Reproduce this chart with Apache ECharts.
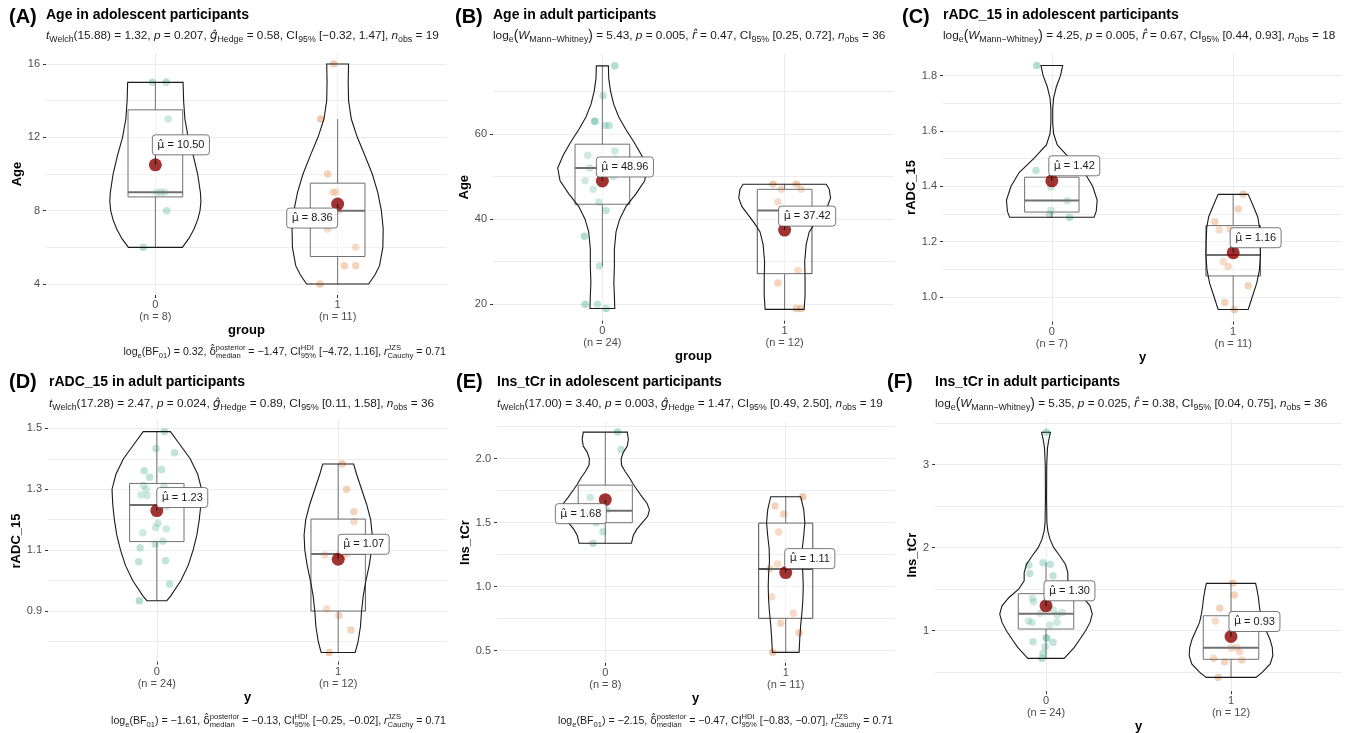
<!DOCTYPE html>
<html>
<head>
<meta charset="utf-8">
<script src="https://cdn.jsdelivr.net/npm/echarts@6/dist/echarts.min.js"></script>
<style>
  html, body { margin: 0; padding: 0; background: #fff; }
  #main { width: 1354px; height: 733px; }
</style>
</head>
<body>
<div id="main"></div>
<script>
// ---- data ----
const panelLetters = ['(A)', '(B)', '(C)', '(D)', '(E)', '(F)']
const panelTitles = [
  'Age in adolescent participants',
  'Age in adult participants',
  'rADC_15 in adolescent participants',
  'rADC_15 in adult participants',
  'Ins_tCr in adolescent participants',
  'Ins_tCr in adult participants'
]
const xNames = ['group', 'group', 'y', 'y', 'y', 'y']
const yNames = ['Age', 'Age', 'rADC_15', 'rADC_15', 'Ins_tCr', 'Ins_tCr']
const xCats = ['0', '1']
const groupN = [[8, 11], [24, 12], [7, 11], [24, 12], [8, 11], [24, 12]]

// y axis ticks
const yMajor = [[4, 8, 12, 16], [20, 40, 60], [1.0, 1.2, 1.4, 1.6, 1.8], [0.9, 1.1, 1.3, 1.5], [0.5, 1.0, 1.5, 2.0], [1, 2, 3]]
const yMinor = [[6, 10, 14], [30, 50, 70], [1.1, 1.3, 1.5, 1.7], [0.8, 1.0, 1.2, 1.4], [0.75, 1.25, 1.75, 2.25], [0.5, 1.5, 2.5, 3.5]]
const yDecimals = [0, 0, 1, 1, 1, 0]
const yRange = [[3.4, 16.6], [16.15, 78.85], [0.911, 1.881], [0.734, 1.526], [0.4045, 2.2855], [0.271, 3.549]]

// group means
const means = [[10.50, 8.36], [48.96, 37.42], [1.42, 1.16], [1.23, 1.07], [1.68, 1.11], [1.30, 0.93]]

// box stats: [lower whisker, Q1, median, Q3, upper whisker]
const boxStats = [
  [[6, 8.75, 9, 13.5, 15], [4, 5.5, 8, 9.5, 13]],
  [[29, 43.5, 52, 57.6, 76], [18.8, 27.2, 42, 47, 48.2]],
  [[1.288, 1.307, 1.349, 1.433, 1.457], [0.955, 1.076, 1.152, 1.258, 1.371]],
  [[0.934, 1.128, 1.248, 1.319, 1.489], [0.764, 0.90, 1.087, 1.202, 1.383]],
  [[1.339, 1.5, 1.594, 1.794, 2.208], [0.487, 0.753, 1.138, 1.497, 1.703]],
  [[0.667, 1.02, 1.205, 1.446, 1.819], [0.438, 0.655, 0.795, 1.18, 1.57]]
]

// jittered observations: [x jitter, value]
const pointsA0 = [[-0.016, 15], [0.059, 15], [0.07, 13], [0.007, 9], [0.051, 9], [0.03, 9], [0.062, 8], [-0.066, 6]]
const pointsA1 = [[-0.022, 16], [-0.093, 13], [-0.055, 10], [-0.027, 9], [-0.01, 9], [0.005, 8], [-0.055, 7], [0.099, 6], [0.037, 5], [0.099, 5], [-0.097, 4]]
const pointsB0 = [[0.068, 76], [0.004, 69], [-0.044, 63], [-0.04, 63], [0.015, 62], [0.037, 62], [-0.08, 55], [0.068, 56], [-0.07, 52], [-0.095, 49], [-0.051, 47], [-0.02, 44], [0.02, 42], [-0.099, 36], [-0.015, 29], [-0.095, 20], [-0.027, 20], [0.02, 19], [0.03, 52], [0.06, 50], [0.05, 53], [-0.01, 51], [0.075, 54], [0.01, 51]]
const pointsB1 = [[-0.064, 48.2], [-0.018, 47], [0.064, 48.2], [0.09, 47], [-0.037, 44], [0.073, 28], [-0.037, 25], [0.064, 19], [0.09, 19], [0.02, 42], [0.04, 42], [0.01, 40]]
const pointsC0 = [[-0.083, 1.837], [-0.087, 1.457], [-0.004, 1.314], [-0.012, 1.299], [0.085, 1.348], [0.098, 1.288], [-0.004, 1.397]]
const pointsC1 = [[0.055, 1.371], [0.028, 1.318], [-0.101, 1.272], [-0.077, 1.242], [-0.018, 1.245], [-0.055, 1.128], [-0.028, 1.11], [0.083, 1.041], [-0.046, 0.98], [0.006, 0.955], [0.01, 1.15]]
const pointsD0 = [[0.042, 1.489], [-0.004, 1.434], [0.098, 1.42], [0.026, 1.365], [-0.07, 1.361], [-0.04, 1.339], [-0.074, 1.312], [-0.059, 1.30], [-0.087, 1.281], [-0.053, 1.279], [0.052, 1.243], [-0.077, 1.157], [-0.007, 1.174], [0.006, 1.188], [0.052, 1.169], [0.033, 1.13], [-0.009, 1.12], [-0.092, 1.108], [-0.1, 1.062], [0.048, 1.065], [0.07, 0.989], [-0.096, 0.934], [0.04, 1.31], [0.07, 1.29]]
const pointsD1 = [[0.022, 1.383], [0.046, 1.3], [0.087, 1.226], [0.087, 1.193], [-0.074, 1.084], [-0.064, 0.907], [0.004, 0.885], [0.07, 0.838], [-0.05, 0.764], [0.01, 1.09], [0.03, 1.08], [0.05, 1.09]]
const pointsE0 = [[0.068, 2.208], [0.087, 2.073], [-0.083, 1.698], [0.009, 1.6], [-0.013, 1.43], [-0.068, 1.339], [-0.03, 1.59], [-0.05, 1.50]]
const pointsE1 = [[0.094, 1.703], [-0.059, 1.63], [-0.011, 1.568], [-0.039, 1.427], [-0.046, 1.177], [-0.087, 1.138], [-0.077, 0.922], [0.042, 0.792], [-0.028, 0.714], [0.074, 0.641], [-0.072, 0.487]]
const pointsF0 = [[0.002, 3.39], [-0.094, 1.791], [-0.016, 1.819], [0.023, 1.80], [-0.088, 1.69], [0.038, 1.663], [-0.074, 1.39], [0.088, 1.22], [0.06, 1.19], [-0.094, 1.116], [-0.076, 1.10], [0.02, 1.07], [0.059, 1.10], [-0.07, 0.867], [0.005, 0.908], [0.038, 0.86], [-0.004, 0.807], [-0.016, 0.727], [-0.022, 0.667], [-0.067, 1.35], [0.01, 1.3], [0.04, 1.25], [-0.03, 1.21], [0.0, 0.915]]
const pointsF1 = [[0.009, 1.57], [0.018, 1.43], [-0.061, 1.27], [-0.085, 1.116], [0.047, 0.747], [0.059, 0.647], [-0.094, 0.667], [-0.034, 0.627], [-0.07, 0.438], [0.0, 0.79], [0.03, 0.80], [0.02, 1.058]]
const points = [[pointsA0, pointsA1], [pointsB0, pointsB1], [pointsC0, pointsC1], [pointsD0, pointsD1], [pointsE0, pointsE1], [pointsF0, pointsF1]]

// violin outlines: [value, half width in group units]
const violinA0 = [[15, 0.152], [14, 0.155], [13, 0.162], [12, 0.18], [11, 0.208], [10, 0.232], [9, 0.247], [8.5, 0.25], [8, 0.245], [7.5, 0.232], [7, 0.212], [6.5, 0.185], [6, 0.148]]
const violinA1 = [[16, 0.06], [15, 0.058], [14, 0.06], [13, 0.075], [12, 0.108], [11, 0.15], [10, 0.19], [9, 0.22], [8, 0.24], [7, 0.25], [6, 0.248], [5, 0.23], [4.5, 0.205], [4, 0.17]]
const violinB0 = [[76, 0.033], [73, 0.035], [70, 0.045], [67, 0.062], [64, 0.09], [61, 0.13], [58, 0.175], [55, 0.215], [52, 0.245], [49, 0.232], [46, 0.185], [43, 0.13], [40, 0.095], [37, 0.075], [33, 0.066], [29, 0.066], [25, 0.063], [22, 0.066], [19, 0.068]]
const violinB1 = [[48.2, 0.228], [47, 0.245], [45, 0.252], [43, 0.235], [41, 0.2], [39, 0.165], [37, 0.135], [34, 0.118], [30, 0.11], [26, 0.112], [22, 0.112], [18.8, 0.107]]
const violinC0 = [[1.837, 0.06], [1.8, 0.048], [1.76, 0.025], [1.72, 0.01], [1.68, 0.005], [1.63, 0.005], [1.59, 0.01], [1.55, 0.03], [1.5, 0.1], [1.45, 0.18], [1.4, 0.225], [1.35, 0.25], [1.31, 0.245], [1.288, 0.233]]
const violinC1 = [[1.371, 0.083], [1.33, 0.11], [1.29, 0.135], [1.25, 0.146], [1.2, 0.149], [1.15, 0.15], [1.1, 0.145], [1.05, 0.13], [1.0, 0.105], [0.955, 0.083]]
const violinD0 = [[1.489, 0.075], [1.45, 0.123], [1.4, 0.184], [1.35, 0.225], [1.3, 0.247], [1.25, 0.243], [1.2, 0.234], [1.15, 0.221], [1.1, 0.2], [1.05, 0.173], [1.0, 0.133], [0.95, 0.077], [0.934, 0.055]]
const violinD1 = [[1.383, 0.085], [1.35, 0.101], [1.3, 0.129], [1.25, 0.157], [1.2, 0.179], [1.15, 0.188], [1.1, 0.184], [1.05, 0.171], [1.0, 0.153], [0.95, 0.138], [0.9, 0.129], [0.85, 0.123], [0.8, 0.11], [0.764, 0.094]]
const violinE0 = [[2.208, 0.122], [2.15, 0.128], [2.1, 0.122], [2.05, 0.1], [2.0, 0.088], [1.95, 0.09], [1.9, 0.11], [1.85, 0.135], [1.8, 0.155], [1.75, 0.18], [1.7, 0.205], [1.65, 0.232], [1.6, 0.245], [1.55, 0.235], [1.5, 0.205], [1.45, 0.175], [1.4, 0.155], [1.339, 0.145]]
const violinE1 = [[1.703, 0.083], [1.6, 0.1], [1.5, 0.106], [1.4, 0.1], [1.3, 0.092], [1.2, 0.09], [1.1, 0.095], [1.0, 0.097], [0.9, 0.095], [0.8, 0.09], [0.7, 0.083], [0.6, 0.078], [0.487, 0.074]]
const violinF0 = [[3.39, 0.024], [3.3, 0.015], [3.2, 0.008], [3.0, 0.004], [2.6, 0.003], [2.3, 0.005], [2.2, 0.01], [2.1, 0.022], [2.0, 0.042], [1.9, 0.075], [1.8, 0.105], [1.7, 0.118], [1.6, 0.118], [1.5, 0.148], [1.4, 0.2], [1.3, 0.238], [1.2, 0.25], [1.1, 0.238], [1.0, 0.214], [0.9, 0.184], [0.8, 0.153], [0.7, 0.112], [0.667, 0.098]]
const violinF1 = [[1.57, 0.133], [1.5, 0.14], [1.4, 0.148], [1.3, 0.153], [1.2, 0.16], [1.1, 0.17], [1.0, 0.19], [0.9, 0.21], [0.8, 0.223], [0.7, 0.226], [0.6, 0.212], [0.5, 0.17], [0.438, 0.135]]
const violins = [[violinA0, violinA1], [violinB0, violinB1], [violinC0, violinC1], [violinD0, violinD1], [violinE0, violinE1], [violinF0, violinF1]]

// statistics texts (token lists: n normal, i italic, h/hi hat glyph, sub, big, stack = sup over sub)
const subtitleTokens = [
  [['i', 't'], ['sub', 'Welch'], ['n', '(15.88) = 1.32, '], ['i', 'p'], ['n', ' = 0.207, '], ['hi', 'ĝ'], ['sub', 'Hedge'], ['n', ' = 0.58, CI'], ['sub', '95%'], ['n', ' [−0.32, 1.47], '], ['i', 'n'], ['sub', 'obs'], ['n', ' = 19']],
  [['n', 'log'], ['sub', 'e'], ['big', '('], ['i', 'W'], ['sub', 'Mann−Whitney'], ['big', ')'], ['n', ' = 5.43, '], ['i', 'p'], ['n', ' = 0.005, '], ['hi', 'r̂'], ['n', ' = 0.47, CI'], ['sub', '95%'], ['n', ' [0.25, 0.72], '], ['i', 'n'], ['sub', 'obs'], ['n', ' = 36']],
  [['n', 'log'], ['sub', 'e'], ['big', '('], ['i', 'W'], ['sub', 'Mann−Whitney'], ['big', ')'], ['n', ' = 4.25, '], ['i', 'p'], ['n', ' = 0.005, '], ['hi', 'r̂'], ['n', ' = 0.67, CI'], ['sub', '95%'], ['n', ' [0.44, 0.93], '], ['i', 'n'], ['sub', 'obs'], ['n', ' = 18']],
  [['i', 't'], ['sub', 'Welch'], ['n', '(17.28) = 2.47, '], ['i', 'p'], ['n', ' = 0.024, '], ['hi', 'ĝ'], ['sub', 'Hedge'], ['n', ' = 0.89, CI'], ['sub', '95%'], ['n', ' [0.11, 1.58], '], ['i', 'n'], ['sub', 'obs'], ['n', ' = 36']],
  [['i', 't'], ['sub', 'Welch'], ['n', '(17.00) = 3.40, '], ['i', 'p'], ['n', ' = 0.003, '], ['hi', 'ĝ'], ['sub', 'Hedge'], ['n', ' = 1.47, CI'], ['sub', '95%'], ['n', ' [0.49, 2.50], '], ['i', 'n'], ['sub', 'obs'], ['n', ' = 19']],
  [['n', 'log'], ['sub', 'e'], ['big', '('], ['i', 'W'], ['sub', 'Mann−Whitney'], ['big', ')'], ['n', ' = 5.35, '], ['i', 'p'], ['n', ' = 0.025, '], ['hi', 'r̂'], ['n', ' = 0.38, CI'], ['sub', '95%'], ['n', ' [0.04, 0.75], '], ['i', 'n'], ['sub', 'obs'], ['n', ' = 36']]
]
const captionTokens = [
  [['n', 'log'], ['sub', 'e'], ['n', '(BF'], ['sub', '01'], ['n', ') = 0.32, '], ['h', 'δ̂'], ['stack', 'posterior', 'median'], ['n', ' = −1.47, CI'], ['stack', 'HDI', '95%'], ['n', ' [−4.72, 1.16], '], ['i', 'r'], ['stack', 'JZS', 'Cauchy'], ['n', ' = 0.71']],
  null,
  null,
  [['n', 'log'], ['sub', 'e'], ['n', '(BF'], ['sub', '01'], ['n', ') = −1.61, '], ['h', 'δ̂'], ['stack', 'posterior', 'median'], ['n', ' = −0.13, CI'], ['stack', 'HDI', '95%'], ['n', ' [−0.25, −0.02], '], ['i', 'r'], ['stack', 'JZS', 'Cauchy'], ['n', ' = 0.71']],
  [['n', 'log'], ['sub', 'e'], ['n', '(BF'], ['sub', '01'], ['n', ') = −2.15, '], ['h', 'δ̂'], ['stack', 'posterior', 'median'], ['n', ' = −0.47, CI'], ['stack', 'HDI', '95%'], ['n', ' [−0.83, −0.07], '], ['i', 'r'], ['stack', 'JZS', 'Cauchy'], ['n', ' = 0.71']],
  null
]

// ---- layout (pixels) ----
const gridRects = [
  [46, 53, 401, 242],
  [493, 53.7, 401, 267],
  [943, 53.3, 399, 268.3],
  [48, 420.4, 399, 241.2],
  [497, 422.2, 397, 240.7],
  [935, 419.1, 407, 272.1]
]
const letterPos = [[9, 17], [455, 17], [902, 17], [9, 382], [456, 382], [887, 382]]
const titlePos = [[46, 15], [493, 15], [943, 15], [49, 382], [497, 382], [935, 382]]
const subPos = [[46, 36], [493, 36], [943, 36], [49, 404], [497, 404], [935, 404]]
const capPos = [[446, 352], null, null, [446, 721], [893, 721], null]
const xNameGap = [29, 29, 28, 28, 27, 24]
const yNameGap = [21, 21, 21, 23, 25, 15]
// mean label placement: [dx, dy, anchor side]
const meanLabelPos = [
  [[-3, -20, 'left'], [0, 14, 'right']],
  [[-6, -14, 'left'], [-6, -14, 'left']],
  [[-3, -15, 'left'], [-3, -15, 'left']],
  [[0, -13, 'left'], [0, -15, 'left']],
  [[1, 14, 'right'], [-1, -14, 'left']],
  [[-2, -15, 'left'], [-2, -15, 'left']]
]

const FONT = '"Liberation Sans", Arial, sans-serif'
const HAT_FONT = '"DejaVu Sans", sans-serif'
const groupColors = ['rgba(27,158,119,0.42)', 'rgba(217,95,2,0.42)']
const GRID_COLOR = '#EBEBEB'
const TXT = '#1A1A1A'

const measureCtx = document.createElement('canvas').getContext('2d')
function textWidth (text, size, family) {
  measureCtx.font = size + 'px ' + (family || FONT)
  return measureCtx.measureText(text).width
}

// 富文本：上下标
function buildRich (tokens, size) {
  const ss = Math.round((size - 3) * 10) / 10
  const rich = {
    n: { fontSize: size, fontFamily: FONT, color: TXT, lineHeight: 16, align: 'left' },
    i: { fontSize: size, fontFamily: FONT, fontStyle: 'italic', color: TXT, lineHeight: 16, align: 'left' },
    h: { fontSize: size, fontFamily: HAT_FONT, color: TXT, lineHeight: 16, align: 'left' },
    hi: { fontSize: size, fontFamily: HAT_FONT, fontStyle: 'italic', color: TXT, lineHeight: 16, align: 'left' },
    big: { fontSize: size + 2, fontFamily: FONT, color: TXT, lineHeight: 16, align: 'left' },
    sub: { fontSize: ss, fontFamily: FONT, color: TXT, verticalAlign: 'bottom', lineHeight: 9, align: 'left' }
  }
  let text = ''
  tokens.forEach(function (t, k) {
    if (t[0] === 'stack') {
      const w = Math.max(textWidth(t[1], ss), textWidth(t[2], ss))
      rich['su' + k] = { fontSize: ss, fontFamily: FONT, color: TXT, verticalAlign: 'top', lineHeight: 7, width: 0.01, align: 'left' }
      rich['sb' + k] = { fontSize: ss, fontFamily: FONT, color: TXT, verticalAlign: 'bottom', lineHeight: 9, width: w, align: 'left' }
      text += '{su' + k + '|' + t[1] + '}{sb' + k + '|' + t[2] + '}'
    } else {
      text += '{' + t[0] + '|' + t[1] + '}'
    }
  })
  return { text: text, rich: rich }
}

function boxItem (p) {
  return function (params, api) {
    const g = params.dataIndex
    const s = boxStats[p][g]
    const w = 0.15
    const tl = api.coord([g - w, s[3]])
    const br = api.coord([g + w, s[1]])
    const lineStyle = { stroke: '#4D4D4D', lineWidth: 1 }
    const top = api.coord([g, s[4]])
    const q3 = api.coord([g, s[3]])
    const q1 = api.coord([g, s[1]])
    const bot = api.coord([g, s[0]])
    const mL = api.coord([g - w, s[2]])
    const mR = api.coord([g + w, s[2]])
    return {
      type: 'group',
      children: [
        { type: 'line', shape: { x1: top[0], y1: top[1], x2: q3[0], y2: q3[1] }, style: lineStyle },
        { type: 'line', shape: { x1: q1[0], y1: q1[1], x2: bot[0], y2: bot[1] }, style: lineStyle },
        { type: 'rect', shape: { x: tl[0], y: tl[1], width: br[0] - tl[0], height: br[1] - tl[1] }, style: { fill: 'rgba(255,255,255,0.2)', stroke: '#4D4D4D', lineWidth: 1 } },
        { type: 'line', shape: { x1: mL[0], y1: mL[1], x2: mR[0], y2: mR[1] }, style: { stroke: '#4D4D4D', lineWidth: 2 } }
      ]
    }
  }
}

function violinItem (p) {
  return function (params, api) {
    const g = params.dataIndex
    const prof = violins[p][g]
    const right = prof.map(function (d) { return api.coord([g + d[1], d[0]]) })
    const left = prof.slice().reverse().map(function (d) { return api.coord([g - d[1], d[0]]) })
    return {
      type: 'polygon',
      shape: { points: right.concat(left) },
      style: { fill: 'rgba(255,255,255,0.2)', stroke: '#1A1A1A', lineWidth: 1.1 }
    }
  }
}

function meanLabelItem (p) {
  return function (params, api) {
    const g = params.dataIndex
    const pt = api.coord([g, means[p][g]])
    const pos = meanLabelPos[p][g]
    const val = ' = ' + means[p][g].toFixed(2)
    const w = textWidth('μ̂', 11, HAT_FONT) + textWidth(val, 11) + 10
    const h = 20
    const x0 = pos[2] === 'left' ? pt[0] + pos[0] : pt[0] + pos[0] - w
    const y0 = pt[1] + pos[1] - h / 2
    const nx = Math.min(Math.max(pt[0], x0), x0 + w)
    const ny = Math.min(Math.max(pt[1], y0), y0 + h)
    return {
      type: 'group',
      children: [
        { type: 'line', shape: { x1: pt[0], y1: pt[1], x2: nx, y2: ny }, style: { stroke: '#000', lineWidth: 0.8 } },
        { type: 'rect', shape: { x: x0, y: y0, width: w, height: h, r: 3 }, style: { fill: '#fff', stroke: '#555', lineWidth: 0.8 } },
        {
          type: 'text',
          x: x0 + 5,
          y: y0 + h / 2,
          style: {
            text: '{m|μ̂}{v|' + val + '}',
            rich: {
              m: { fontFamily: HAT_FONT, fontSize: 11, color: TXT, align: 'left' },
              v: { fontFamily: FONT, fontSize: 11, color: TXT, align: 'left' }
            },
            font: '11px ' + FONT,
            fill: TXT,
            align: 'left',
            verticalAlign: 'middle',
            textAlign: 'left',
            textVerticalAlign: 'middle'
          }
        }
      ]
    }
  }
}

const grids = []
const xAxes = []
const yAxes = []
const series = []
const graphics = []

for (let p = 0; p < 6; p++) {
  const r = gridRects[p]
  grids.push({ left: r[0], top: r[1], width: r[2], height: r[3], containLabel: false, outerBoundsMode: 'none' })

  xAxes.push({
    gridIndex: p,
    type: 'value',
    min: -0.6,
    max: 1.6,
    name: xNames[p],
    nameLocation: 'middle',
    nameGap: xNameGap[p],
    nameTextStyle: { fontFamily: FONT, fontWeight: 'bold', fontSize: 13, color: '#000' },
    axisLine: { show: false },
    axisTick: { show: true, length: 3, customValues: [0, 1], lineStyle: { color: '#333' } },
    axisLabel: {
      customValues: [0, 1],
      formatter: function (v) { return xCats[Math.round(v)] + '\n(n = ' + groupN[p][Math.round(v)] + ')' },
      color: '#4D4D4D',
      fontFamily: FONT,
      fontSize: 11,
      lineHeight: 12,
      margin: 4
    },
    splitLine: { show: true, lineStyle: { color: GRID_COLOR, width: 1 } }
  })

  // grid lines (major + minor)
  yAxes.push({
    gridIndex: p,
    type: 'value',
    min: yRange[p][0],
    max: yRange[p][1],
    position: 'left',
    axisLine: { show: false },
    axisTick: { show: false, customValues: yMajor[p].concat(yMinor[p]) },
    axisLabel: { show: false, customValues: yMajor[p].concat(yMinor[p]) },
    splitLine: { show: true, lineStyle: { color: GRID_COLOR, width: 1 } }
  })
  // ticks + labels
  yAxes.push({
    gridIndex: p,
    type: 'value',
    min: yRange[p][0],
    max: yRange[p][1],
    position: 'left',
    name: yNames[p],
    nameLocation: 'middle',
    nameGap: yNameGap[p],
    nameTextStyle: { fontFamily: FONT, fontWeight: 'bold', fontSize: 13, color: '#000' },
    axisLine: { show: false },
    axisTick: { show: true, length: 3, customValues: yMajor[p], lineStyle: { color: '#333' } },
    axisLabel: {
      customValues: yMajor[p],
      formatter: function (v) { return Number(v).toFixed(yDecimals[p]) },
      color: '#4D4D4D',
      fontFamily: FONT,
      fontSize: 11,
      margin: 6
    },
    splitLine: { show: false }
  })

  const yIdx = 2 * p + 1
  for (let g = 0; g < 2; g++) {
    series.push({
      type: 'scatter',
      xAxisIndex: p,
      yAxisIndex: yIdx,
      data: points[p][g].map(function (d) { return [g + d[0], d[1]] }),
      symbolSize: 7.5,
      itemStyle: { color: groupColors[g] },
      silent: true,
      z: 2
    })
  }
  series.push({
    type: 'custom',
    xAxisIndex: p,
    yAxisIndex: yIdx,
    data: [[0, boxStats[p][0][2]], [1, boxStats[p][1][2]]],
    renderItem: boxItem(p),
    silent: true,
    z: 3
  })
  series.push({
    type: 'custom',
    xAxisIndex: p,
    yAxisIndex: yIdx,
    data: [[0, means[p][0]], [1, means[p][1]]],
    renderItem: violinItem(p),
    silent: true,
    z: 4
  })
  series.push({
    type: 'scatter',
    xAxisIndex: p,
    yAxisIndex: yIdx,
    data: means[p].map(function (m, g) { return [g, m] }),
    symbolSize: 13,
    itemStyle: { color: '#8B0000' },
    silent: true,
    z: 5
  })
  series.push({
    type: 'custom',
    xAxisIndex: p,
    yAxisIndex: yIdx,
    data: [[0, means[p][0]], [1, means[p][1]]],
    renderItem: meanLabelItem(p),
    silent: true,
    z: 6
  })

  // texts
  graphics.push({
    type: 'text',
    x: letterPos[p][0],
    y: letterPos[p][1],
    style: { text: panelLetters[p], font: 'bold 20px ' + FONT, fill: '#000', textAlign: 'left', textVerticalAlign: 'middle', align: 'left', verticalAlign: 'middle' }
  })
  graphics.push({
    type: 'text',
    x: titlePos[p][0],
    y: titlePos[p][1],
    style: { text: panelTitles[p], font: 'bold 14px ' + FONT, fill: '#000', textAlign: 'left', textVerticalAlign: 'middle', align: 'left', verticalAlign: 'middle' }
  })
  const sub = buildRich(subtitleTokens[p], 11.8)
  graphics.push({
    type: 'text',
    x: subPos[p][0],
    y: subPos[p][1],
    style: { text: sub.text, rich: sub.rich, font: '11.8px ' + FONT, fill: TXT, textAlign: 'left', textVerticalAlign: 'middle', align: 'left', verticalAlign: 'middle' }
  })
  if (captionTokens[p]) {
    const cap = buildRich(captionTokens[p], 10.6)
    graphics.push({
      type: 'text',
      x: capPos[p][0],
      y: capPos[p][1],
      style: { text: cap.text, rich: cap.rich, font: '10.6px ' + FONT, fill: TXT, textAlign: 'right', textVerticalAlign: 'middle', align: 'right', verticalAlign: 'middle' }
    })
  }
}

const chart = echarts.init(document.getElementById('main'))
chart.setOption({
  animation: false,
  backgroundColor: '#fff',
  grid: grids,
  xAxis: xAxes,
  yAxis: yAxes,
  series: series,
  graphic: { elements: graphics }
})
</script>
</body>
</html>
